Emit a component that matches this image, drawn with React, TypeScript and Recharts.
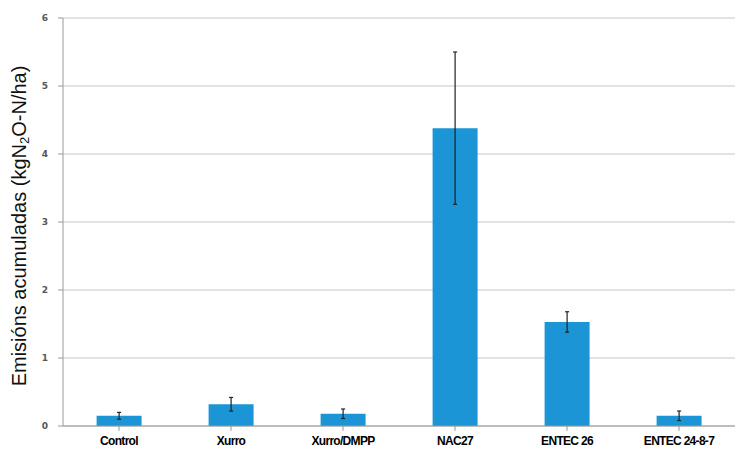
import { BarChart, Bar, XAxis, YAxis, CartesianGrid, ErrorBar } from 'recharts';

const categories = ['Control', 'Xurro', 'Xurro/DMPP', 'NAC27', 'ENTEC 26', 'ENTEC 24-8-7'];
const emissions = [0.15, 0.32, 0.18, 4.38, 1.53, 0.15];
const errors = [0.05, 0.1, 0.07, 1.12, 0.15, 0.07];
const yTicks = [0, 1, 2, 3, 4, 5, 6];

const data = categories.map((name, i) => ({ name, value: emissions[i], err: errors[i] }));

const YLabel = () => (
  <text
    x={19}
    y={226}
    transform="rotate(-90 19 226)"
    textAnchor="middle"
    dominantBaseline="central"
    fontFamily="'Liberation Sans', Arial, sans-serif"
    fontSize={20}
    fill="#111"
  >
    Emisións acumuladas (kgN
    <tspan fontSize={13} dy={5}>2</tspan>
    <tspan dy={-5}>O-N/ha)</tspan>
  </text>
);

export default function App() {
  return (
    <div style={{ position: 'absolute', left: 0, top: 0, background: '#fff' }}>
      <BarChart
        width={739}
        height={455}
        data={data}
        margin={{ top: 18, right: 4, left: 0, bottom: 0 }}
        barCategoryGap="30%"
      >
        <CartesianGrid vertical={false} stroke="#c8c8c8" strokeWidth={1.2} />
        <XAxis
          dataKey="name"
          height={29}
          stroke="#999"
          tickLine={{ stroke: '#999' }}
          tickSize={5}
          interval={0}
          tick={{
            fontSize: 12,
            fontWeight: 'bold',
            fill: '#000',
            fontFamily: "'Liberation Sans', Arial, sans-serif",
            letterSpacing: -0.7,
            dy: 3,
          }}
        />
        <YAxis
          width={63}
          domain={[0, 6]}
          ticks={yTicks}
          stroke="#999"
          tickSize={5}
          tick={{
            fontSize: 9,
            fontWeight: 'bold',
            fill: '#555',
            fontFamily: "'DejaVu Sans', sans-serif",
            dx: -8,
          }}
        />
        <Bar dataKey="value" fill="#1b95d6" isAnimationActive={false}>
          <ErrorBar dataKey="err" width={2} stroke="#222" strokeWidth={1.2} />
        </Bar>
        <YLabel />
      </BarChart>
    </div>
  );
}
